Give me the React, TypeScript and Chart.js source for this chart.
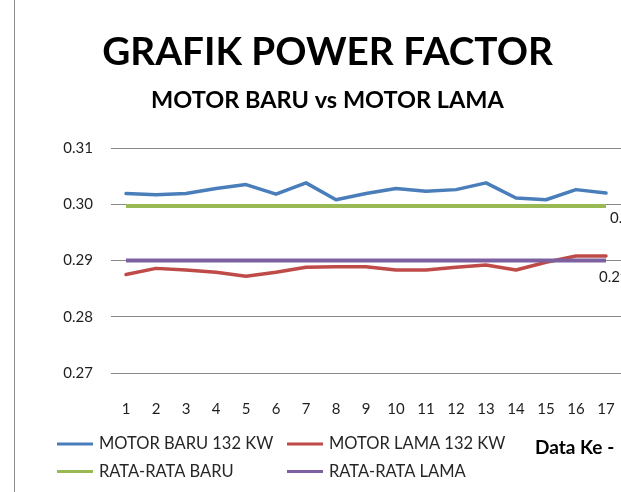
import React, { useEffect, useRef } from "react";
import { Chart, registerables } from "chart.js";

Chart.register(...registerables);

const titleText = "GRAFIK POWER FACTOR";
const subtitleText = "MOTOR BARU vs MOTOR LAMA";
const xAxisTitle = "Data Ke -";

const categories = ["1", "2", "3", "4", "5", "6", "7", "8", "9", "10", "11", "12", "13", "14", "15", "16", "17"];

const motorBaru = [0.3019, 0.3017, 0.3019, 0.3028, 0.3035, 0.3018, 0.3038, 0.3008, 0.3019, 0.3028, 0.3023, 0.3026, 0.3038, 0.3011, 0.3008, 0.3026, 0.3020];
const motorLama = [0.2875, 0.2886, 0.2883, 0.2879, 0.2872, 0.2879, 0.2888, 0.2889, 0.2889, 0.2883, 0.2883, 0.2888, 0.2892, 0.2883, 0.2897, 0.2908, 0.2908];
const rataBaru = [0.2997, 0.2997, 0.2997, 0.2997, 0.2997, 0.2997, 0.2997, 0.2997, 0.2997, 0.2997, 0.2997, 0.2997, 0.2997, 0.2997, 0.2997, 0.2997, 0.2997];
const rataLama = [0.29, 0.29, 0.29, 0.29, 0.29, 0.29, 0.29, 0.29, 0.29, 0.29, 0.29, 0.29, 0.29, 0.29, 0.29, 0.29, 0.29];

const seriesNames = ["MOTOR BARU 132 KW", "MOTOR LAMA 132 KW", "RATA-RATA BARU", "RATA-RATA LAMA"];
const yTicks = [0.27, 0.28, 0.29, 0.3, 0.31];

const FONT = "Lato, 'Open Sans', sans-serif";
const TEXT = "#1e1e1e";

const overlayPlugin = {
  id: "overlay",
  afterDraw(chart: any) {
    const ctx = chart.ctx as CanvasRenderingContext2D;
    ctx.save();
    // left chart border
    ctx.strokeStyle = "#8c8c8c";
    ctx.lineWidth = 1;
    ctx.beginPath();
    ctx.moveTo(14.5, 0);
    ctx.lineTo(14.5, chart.height);
    ctx.stroke();

    // titles
    ctx.fillStyle = "#000";
    ctx.textAlign = "center";
    ctx.textBaseline = "alphabetic";
    ctx.font = `bold 38.7px ${FONT}`;
    ctx.fillText(titleText, 327.5, 65);
    ctx.font = `bold 23.5px ${FONT}`;
    ctx.fillText(subtitleText, 327.5, 108);

    // legend (2 columns x 2 rows)
    const colX = [57, 287];
    const rowY = [444, 471.5];
    const baseOff = 5;
    ctx.font = `16.5px ${FONT}`;
    ctx.textAlign = "left";
    chart.data.datasets.forEach((ds: any, i: number) => {
      const col = i % 2;
      const row = Math.floor(i / 2);
      const x = colX[col];
      const y = rowY[row];
      ctx.strokeStyle = ds.borderColor;
      ctx.lineWidth = 3;
      ctx.beginPath();
      ctx.moveTo(x, y);
      ctx.lineTo(x + 36, y);
      ctx.stroke();
      ctx.fillStyle = "#262626";
      ctx.fillText(ds.label, x + 42, y + baseOff);
    });

    // x axis title
    ctx.fillStyle = "#000";
    ctx.font = `bold 19px ${FONT}`;
    ctx.fillText(xAxisTitle, 535, 454);

    // value labels at the end of the average lines
    ctx.font = `15px ${FONT}`;
    ctx.fillStyle = TEXT;
    ctx.textBaseline = "middle";
    const labelOffsets = [
      { ds: 2, dx: 4, dy: 12 },
      { ds: 3, dx: -7, dy: 17 },
    ];
    labelOffsets.forEach((o) => {
      const meta = chart.getDatasetMeta(o.ds);
      const pts = meta.data;
      const last = pts[pts.length - 1];
      const vals = chart.data.datasets[o.ds].data;
      const v = vals[vals.length - 1] as number;
      ctx.fillText(v.toFixed(4), last.x + o.dx, last.y + o.dy);
    });
    ctx.restore();
  },
};

export default function App() {
  const ref = useRef<HTMLCanvasElement | null>(null);

  useEffect(() => {
    if (!ref.current) return;
    const lineBase = {
      fill: false,
      tension: 0,
      pointRadius: 0,
      pointHoverRadius: 0,
      borderJoinStyle: "round" as const,
      borderCapStyle: "round" as const,
    };
    const chart = new Chart(ref.current, {
      type: "line",
      data: {
        labels: categories,
        datasets: [
          { ...lineBase, label: seriesNames[0], data: motorBaru, borderColor: "#4a7ebb", backgroundColor: "#4a7ebb", borderWidth: 3.5, order: 3 },
          { ...lineBase, label: seriesNames[1], data: motorLama, borderColor: "#be4b48", backgroundColor: "#be4b48", borderWidth: 3.5, order: 2 },
          { ...lineBase, label: seriesNames[2], data: rataBaru, borderColor: "#98b954", backgroundColor: "#98b954", borderWidth: 4, order: 1, borderCapStyle: "butt" as const },
          { ...lineBase, label: seriesNames[3], data: rataLama, borderColor: "#7d60a0", backgroundColor: "#7d60a0", borderWidth: 4, order: 0, borderCapStyle: "butt" as const },
        ],
      },
      options: {
        responsive: false,
        animation: false,
        devicePixelRatio: 1,
        layout: { padding: { top: 148, left: 0, right: 0, bottom: 0 } },
        plugins: {
          legend: { display: false },
          title: { display: false },
          tooltip: { enabled: false },
        },
        scales: {
          x: {
            type: "category",
            offset: true,
            grid: { display: false, drawTicks: false },
            border: { display: false },
            ticks: {
              color: TEXT,
              font: { family: FONT, size: 15 },
              padding: 27,
              maxRotation: 0,
              autoSkip: false,
            },
            afterFit: (s: any) => {
              s.height = 119;
              s.paddingLeft = 0;
              s.paddingRight = 0;
            },
          },
          y: {
            min: 0.27,
            max: 0.31,
            grid: { color: "#8a8a8a", lineWidth: 1, drawTicks: false },
            border: { display: false },
            ticks: {
              color: TEXT,
              font: { family: FONT, size: 15 },
              padding: 18,
              callback: (v: any) => Number(v).toFixed(2),
            },
            afterBuildTicks: (s: any) => {
              s.ticks = yTicks.map((v) => ({ value: v }));
            },
            afterFit: (s: any) => {
              s.width = 111;
            },
          },
        },
      },
      plugins: [overlayPlugin],
    });
    return () => chart.destroy();
  }, []);

  return (
    <div style={{ position: "fixed", left: 0, top: 0, width: 621, height: 492, background: "#fff" }}>
      <canvas ref={ref} width={621} height={492} style={{ display: "block" }} />
    </div>
  );
}
